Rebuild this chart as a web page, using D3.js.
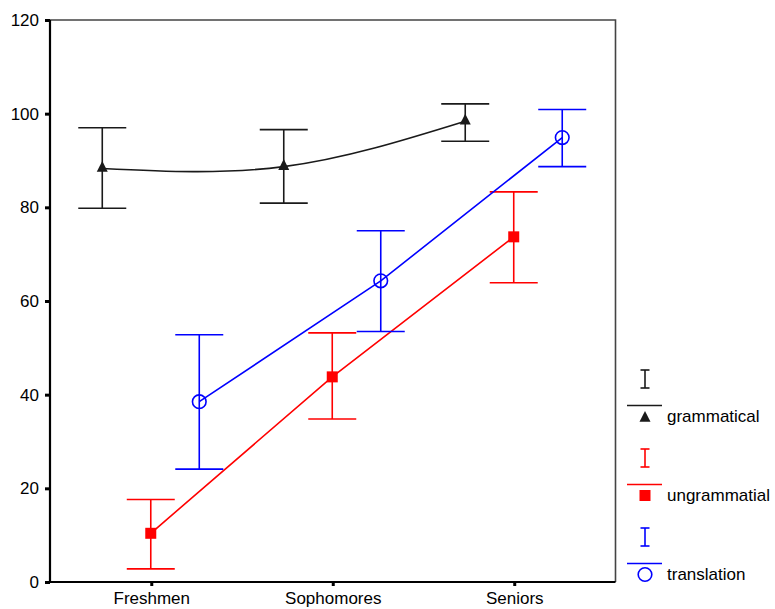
<!DOCTYPE html>
<html>
<head>
<meta charset="utf-8">
<script src="https://cdn.jsdelivr.net/npm/d3@7/dist/d3.min.js"></script>
<style>
  html, body { margin: 0; padding: 0; background: #fff; }
  svg { display: block; }
  text { font-family: "Liberation Sans", Arial, sans-serif; }
</style>
</head>
<body>
<svg id="chart" width="775" height="609"></svg>
<script>
// Class years on the x axis
const categories = ["Freshmen", "Sophomores", "Seniors"];
// Series names as shown in the legend
const seriesNames = ["grammatical", "ungrammatial", "translation"];
// Group means per class year
const grammaticalMean = [88.3, 88.7, 98.4];
const ungrammaticalMean = [10.4, 43.8, 73.7];
const translationMean = [38.5, 64.3, 94.9];
// Error bar bounds
const grammaticalLow = [79.8, 80.9, 94.1];
const grammaticalHigh = [97.0, 96.6, 102.1];
const ungrammaticalLow = [2.8, 34.8, 63.9];
const ungrammaticalHigh = [17.6, 53.2, 83.3];
const translationLow = [24.1, 53.5, 88.7];
const translationHigh = [52.8, 75.0, 100.9];
// Y axis ticks
const yTicks = [0, 20, 40, 60, 80, 100, 120];

const series = [
  { name: seriesNames[0], mean: grammaticalMean, low: grammaticalLow, high: grammaticalHigh,
    color: "#1a1a1a", marker: "triangle", curve: d3.curveNatural },
  { name: seriesNames[1], mean: ungrammaticalMean, low: ungrammaticalLow, high: ungrammaticalHigh,
    color: "#ff0000", marker: "square", curve: d3.curveLinear },
  { name: seriesNames[2], mean: translationMean, low: translationLow, high: translationHigh,
    color: "#0000ff", marker: "circle", curve: d3.curveLinear }
];

const svg = d3.select("#chart");
const plotLeft = 50, plotRight = 615.5, plotTop = 20, plotBottom = 582;

const x = d3.scalePoint().domain(categories).range([plotLeft, plotRight]).padding(0.558);
const dx = d3.scalePoint().domain(seriesNames).range([-49, 48]);
const y = d3.scaleLinear().domain([0, 120]).range([plotBottom, plotTop]);
const capHalf = 24;

// Frame (top and right edges)
svg.append("path")
  .attr("d", `M${plotLeft},${plotTop}H${plotRight}V${plotBottom}`)
  .attr("fill", "none").attr("stroke", "#444").attr("stroke-width", 1.6);

// Y axis
const yAxis = svg.append("g").attr("transform", `translate(${plotLeft},0)`)
  .call(d3.axisLeft(y).tickValues(yTicks).tickSize(5).tickPadding(6).tickSizeOuter(0));
yAxis.select(".domain").remove();
yAxis.selectAll(".tick line").attr("stroke", "#000").attr("stroke-width", 3);
yAxis.selectAll(".tick text").attr("font-size", 17).attr("fill", "#000")
  .attr("font-family", "Liberation Sans, Arial, sans-serif");

// X axis
const xAxis = svg.append("g").attr("transform", `translate(0,${plotBottom})`)
  .call(d3.axisBottom(x).tickSize(4).tickPadding(6).tickSizeOuter(0));
xAxis.select(".domain").remove();
xAxis.selectAll(".tick line").attr("stroke", "#000").attr("stroke-width", 3);
xAxis.selectAll(".tick text").attr("font-size", 17).attr("fill", "#000")
  .attr("font-family", "Liberation Sans, Arial, sans-serif");

// Axis lines
svg.append("line").attr("x1", plotLeft).attr("x2", plotLeft).attr("y1", plotTop).attr("y2", plotBottom + 1)
  .attr("stroke", "#000").attr("stroke-width", 2.2);
svg.append("line").attr("x1", plotLeft - 1).attr("x2", plotRight).attr("y1", plotBottom).attr("y2", plotBottom)
  .attr("stroke", "#000").attr("stroke-width", 2.2);

function drawMarker(g, type, cx, cy, color) {
  if (type === "triangle") {
    g.append("path")
      .attr("d", `M${cx},${cy - 7.5}L${cx + 5.5},${cy + 3.3}L${cx - 5.5},${cy + 3.3}Z`)
      .attr("fill", color);
  } else if (type === "square") {
    g.append("rect").attr("x", cx - 5.5).attr("y", cy - 5.5)
      .attr("width", 11).attr("height", 11).attr("fill", color);
  } else {
    g.append("circle").attr("cx", cx).attr("cy", cy).attr("r", 6.8)
      .attr("fill", "none").attr("stroke", color).attr("stroke-width", 1.6);
  }
}

const plot = svg.append("g");
series.forEach(s => {
  const g = plot.append("g");
  const px = c => x(c) + dx(s.name);
  // Error bars
  categories.forEach((c, i) => {
    const cx = px(c);
    g.append("line").attr("x1", cx).attr("x2", cx)
      .attr("y1", y(s.low[i])).attr("y2", y(s.high[i]))
      .attr("stroke", s.color).attr("stroke-width", 1.6);
    [s.low[i], s.high[i]].forEach(v => {
      g.append("line").attr("x1", cx - capHalf).attr("x2", cx + capHalf)
        .attr("y1", y(v)).attr("y2", y(v))
        .attr("stroke", s.color).attr("stroke-width", 1.6);
    });
  });
  // Line through the means
  const line = d3.line().x((d, i) => px(categories[i])).y(d => y(d)).curve(s.curve);
  g.append("path").attr("d", line(s.mean))
    .attr("fill", "none").attr("stroke", s.color).attr("stroke-width", 1.6);
  // Markers
  categories.forEach((c, i) => drawMarker(g, s.marker, px(c), y(s.mean[i]), s.color));
});

// Legend
const legend = svg.append("g").attr("transform", "translate(645,370)");
series.forEach((s, i) => {
  const g = legend.append("g").attr("transform", `translate(0,${i * 79})`);
  g.append("line").attr("x1", 0).attr("x2", 0).attr("y1", 0).attr("y2", 18)
    .attr("stroke", s.color).attr("stroke-width", 1.6);
  [0, 18].forEach(v => g.append("line").attr("x1", -4.5).attr("x2", 4.5)
    .attr("y1", v).attr("y2", v).attr("stroke", s.color).attr("stroke-width", 1.6));
  g.append("line").attr("x1", -18).attr("x2", 17).attr("y1", 35.5).attr("y2", 35.5)
    .attr("stroke", s.color).attr("stroke-width", 1.6);
  drawMarker(g, s.marker, 0, s.marker === "triangle" ? 48.5 : 46.5, s.color);
  g.append("text").attr("x", 22).attr("y", 52).attr("font-size", 17)
    .attr("fill", "#000").text(s.name);
});
</script>
</body>
</html>
